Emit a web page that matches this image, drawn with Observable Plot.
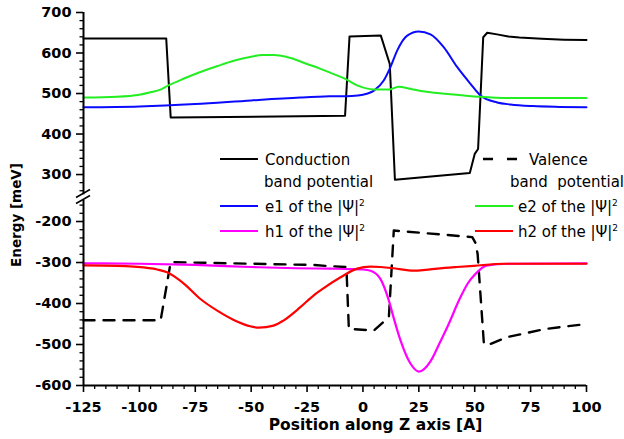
<!DOCTYPE html>
<html><head><meta charset="utf-8">
<script src="https://cdn.jsdelivr.net/npm/d3@7"></script>
<script src="https://cdn.jsdelivr.net/npm/@observablehq/plot@0.6"></script>
<style>body{margin:0;background:#fff} #chart svg{display:block}</style>
</head><body><div id="chart"></div>
<script>
// ---- data ----
const condX = [-125, -88, -86, -8, -6, 8, 12, 14.3, 47.8, 50, 51.5, 53.8, 55.6, 60, 65, 70, 80, 90, 100];
const condY = [636, 636, 441, 445, 641, 643, 573, 287, 304, 351, 363, 639, 650, 646, 641, 638, 635, 633, 632];

const valX = [-125, -90.5, -86, -22, -14.5, -7.4, -6.3, 4.9, 11.6, 13.8, 48.9, 50.3, 51.3, 54.1, 55.6, 64.5, 81.7, 100];
const valY = [-441, -441, -299, -306, -309, -311, -462, -466, -433, -222, -238, -252, -279, -498, -502, -482, -462, -450];

const e1X = [-125, -100, -75, -50, -28, -15, -5, 0, 4.9, 9.3, 12.3, 15.3, 19.8, 25, 30.2, 36.2, 42.2, 48.1, 52.6, 60, 66, 76, 88, 100];
const e1Y = [466, 468, 474, 483, 490, 493, 494, 497, 507, 532, 565, 606, 643, 653, 646, 614, 565, 524, 495, 478, 473, 469, 467, 466];

const e2X = [-125, -110, -100, -95, -90, -87, -80, -72.7, -65, -57.8, -50, -45, -40, -32, -25, -19, -14.5, -8.6, -2.6, 4.9, 11.6, 16, 21, 26, 38, 52, 66, 100];
const e2Y = [490, 492, 497, 503, 511, 520, 537, 553, 568, 581, 591, 595, 595, 587, 573, 561, 551, 538, 520, 510, 510, 517, 512, 506, 499, 492, 489, 489];

const h1X = [-125, -100, -75, -50, -30, -14.5, -5, 0, 3.4, 7.8, 11.6, 14, 16.8, 21.3, 25, 30.2, 34, 37.7, 43.6, 47, 50.3, 55.6, 65, 100];
const h1Y = [-302, -303, -306, -311, -314, -315, -316, -317, -320, -340, -393, -440, -490, -547, -566, -541, -500, -458, -385, -350, -328, -307, -303, -302];

const h2X = [-125, -110, -102.5, -92, -87.6, -80, -72.7, -65, -57.8, -50, -46.6, -40, -35.4, -28, -22, -19, -10, -2.6, 3.4, 8, 13.8, 22.7, 28, 33.2, 42, 49.6, 63, 100];
const h2Y = [-307, -308, -310, -317, -324, -352, -389, -418, -440, -456, -459, -454, -441, -409, -380, -368, -336, -315, -310, -311, -314, -320, -318, -315, -311, -308, -303, -303];

const xMajor = [-125, -100, -75, -50, -25, 0, 25, 50, 75, 100];
const yMajor = [700, 600, 500, 400, 300, -200, -300, -400, -500, -600];

const legendLeft = ["Conduction", "band potential"];
const legendRight = ["Valence", "band  potential"];
const legendWave = ["e1", "e2", "h1", "h2"];

// ---- build tables ----
const zip = (xs, ys) => xs.map((x, i) => ({x, y: ys[i]}));
const cond = zip(condX, condY), val = zip(valX, valY);
const e1 = zip(e1X, e1Y), e2 = zip(e2X, e2Y), h1 = zip(h1X, h1Y), h2 = zip(h2X, h2Y);

const xMinor = d3.range(-125, 101, 5).filter(v => !xMajor.includes(v));
const yMinor = d3.range(260, 701, 20).concat(d3.range(-600, -159, 20)).filter(v => !yMajor.includes(v));

const C = {cond: "#000", e1: "#0a0aff", e2: "#22ee22", h1: "#ff00ff", h2: "#ff0000"};

const plot = Plot.plot({
  width: 624, height: 439,
  marginLeft: 83, marginRight: 38, marginTop: 12, marginBottom: 54,
  style: {fontFamily: "DejaVu Sans", background: "white", color: "black"},
  x: {domain: [-125, 100]},
  y: {type: "linear", domain: [-600, -148, 250, 700], range: [385, 199.7, 194.3, 12]},
  marks: [
    Plot.line(cond, {x: "x", y: "y", stroke: C.cond, strokeWidth: 2}),
    Plot.line(val, {x: "x", y: "y", stroke: C.cond, strokeWidth: 2.4, strokeDasharray: "11,9"}),
    Plot.line(e1, {x: "x", y: "y", stroke: C.e1, strokeWidth: 2, curve: "monotone-x"}),
    Plot.line(e2, {x: "x", y: "y", stroke: C.e2, strokeWidth: 2, curve: "monotone-x"}),
    Plot.line(h1, {x: "x", y: "y", stroke: C.h1, strokeWidth: 2.2, curve: "monotone-x"}),
    Plot.line(h2, {x: "x", y: "y", stroke: C.h2, strokeWidth: 2.2, curve: "monotone-x"}),
    Plot.ruleY([-600], {stroke: "black", strokeWidth: 2}),
    Plot.ruleX([{y1: 250, y2: 700}, {y1: -600, y2: -148}], {x: () => -125, y1: "y1", y2: "y2", stroke: "black", strokeWidth: 2}),
    Plot.axisX({ticks: xMajor, tickSize: 7, tickPadding: 9, strokeWidth: 1.6, tickFormat: d => String(d), label: null}),
    Plot.axisX({ticks: xMinor, tickSize: 4, strokeWidth: 1.3, tickFormat: () => "", label: null}),
    Plot.axisY({ticks: yMajor, tickSize: 7, tickPadding: 5, strokeWidth: 1.6, tickFormat: d => String(d), label: null}),
    Plot.axisY({ticks: yMinor, tickSize: 3.5, strokeWidth: 1.3, tickFormat: () => "", label: null})
  ]
});
document.getElementById("chart").appendChild(plot);

const svg = d3.select(plot);
// bold, larger tick labels
svg.selectAll("g[aria-label$='tick label']").style("font-size", "14.5px").style("font-weight", "bold").attr("fill", "black");

// ---- annotations: axis break, axis titles, legend ----
const g = svg.append("g").attr("stroke", "black").attr("stroke-width", 1.5);
[[76, 197.5, 90, 189.5], [76, 203.5, 90, 195.5]].forEach(([x1, y1, x2, y2]) =>
  g.append("line").attr("x1", x1).attr("y1", y1).attr("x2", x2).attr("y2", y2));

svg.append("text").attr("x", 375.5).attr("y", 429.5).attr("text-anchor", "middle")
  .attr("font-family", "DejaVu Sans").attr("font-weight", "bold").style("font-size", "15.5px")
  .text("Position along Z axis [A]");
svg.append("text").attr("transform", "translate(20.5,215) rotate(-90)").attr("text-anchor", "middle")
  .attr("font-family", "DejaVu Sans").attr("font-weight", "bold").attr("font-size", 13.5).style("font-size", "13.5px")
  .text("Energy [meV]");

const lg = svg.append("g").attr("font-family", "DejaVu Sans").style("font-size", "15px")
  .attr("text-anchor", "start").attr("fill", "black");
lg.append("line").attr("x1", 220).attr("x2", 258).attr("y1", 159).attr("y2", 159).attr("stroke", C.cond).attr("stroke-width", 2);
lg.append("text").attr("x", 265).attr("y", 165).text(legendLeft[0]);
lg.append("text").attr("x", 264).attr("y", 186.7).text(legendLeft[1]);
lg.append("line").attr("x1", 483).attr("x2", 517).attr("y1", 159).attr("y2", 159).attr("stroke", C.cond).attr("stroke-width", 2.4).attr("stroke-dasharray", "10,14");
lg.append("text").attr("x", 529).attr("y", 165).text(legendRight[0]);
lg.append("text").attr("x", 510).attr("y", 186.7).style("white-space", "pre").text(legendRight[1]);

const waveItems = [
  {name: legendWave[0], color: C.e1, lx: 220, tx: 265, y: 206},
  {name: legendWave[1], color: C.e2, lx: 475, tx: 518, y: 206},
  {name: legendWave[2], color: C.h1, lx: 220, tx: 265, y: 231},
  {name: legendWave[3], color: C.h2, lx: 475, tx: 518, y: 231}
];
waveItems.forEach(it => {
  lg.append("line").attr("x1", it.lx).attr("x2", it.lx + 38).attr("y1", it.y).attr("y2", it.y).attr("stroke", it.color).attr("stroke-width", 2);
  const t = lg.append("text").attr("x", it.tx).attr("y", it.y + 5.7);
  t.append("tspan").text(it.name + " of the |\u03A8|");
  t.append("tspan").attr("dy", -6).style("font-size", "9px").text("2");
});
</script>
</body></html>
